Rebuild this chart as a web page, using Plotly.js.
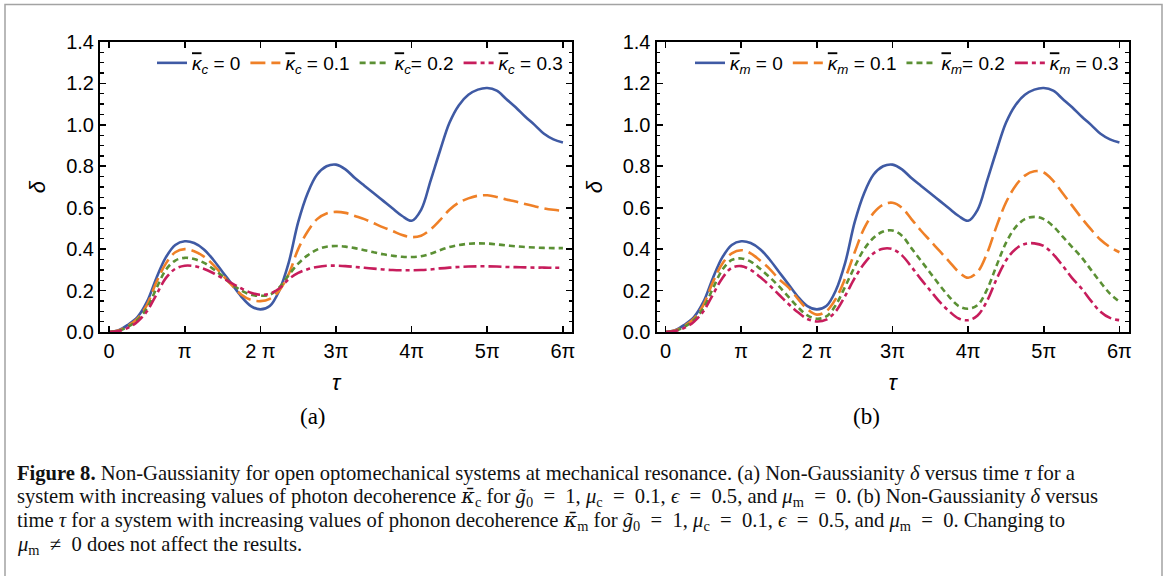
<!DOCTYPE html>
<html>
<head>
<meta charset="utf-8">
<script src="https://cdn.plot.ly/plotly-3.0.1.min.js"></script>
<style>
  html, body { margin: 0; padding: 0; background: #ffffff; }
  #chart { width: 1165px; height: 576px; }
</style>
</head>
<body>
<div id="chart"></div>
<script>
// ---------------- data ----------------
// time tau, in units of pi
const tauOverPi = [0, 0.125, 0.25, 0.375, 0.5, 0.625, 0.75, 0.875,
  1, 1.125, 1.25, 1.375, 1.5, 1.625, 1.75, 1.875,
  2, 2.125, 2.25, 2.375, 2.5, 2.625, 2.75, 2.875,
  3, 3.125, 3.25, 3.375, 3.5, 3.625, 3.75, 3.875,
  4, 4.125, 4.25, 4.375, 4.5, 4.625, 4.75, 4.875,
  5, 5.125, 5.25, 5.375, 5.5, 5.625, 5.75, 5.875, 6];

// closed system (kappa = 0), same curve in both panels
const deltaKappa0 = [0, 0.008, 0.035, 0.072, 0.145, 0.26, 0.36, 0.42,
  0.438, 0.43, 0.40, 0.35, 0.29, 0.23, 0.17, 0.125,
  0.109, 0.125, 0.20, 0.335, 0.53, 0.67, 0.76, 0.80,
  0.808, 0.785, 0.743, 0.706, 0.67, 0.633, 0.596, 0.56,
  0.537, 0.59, 0.73, 0.875, 1.01, 1.095, 1.145, 1.17,
  1.178, 1.165, 1.125, 1.085, 1.04, 1.0, 0.957, 0.93, 0.915];

// panel (a): photon decoherence kappa_c
const deltaKc01 = [0, 0.007, 0.03, 0.065, 0.13, 0.24, 0.33, 0.385,
  0.40, 0.39, 0.365, 0.325, 0.275, 0.225, 0.18, 0.155,
  0.149, 0.16, 0.20, 0.28, 0.40, 0.485, 0.545, 0.572,
  0.58, 0.575, 0.56, 0.545, 0.525, 0.505, 0.487, 0.468,
  0.458, 0.465, 0.495, 0.54, 0.59, 0.625, 0.645, 0.658,
  0.66, 0.652, 0.64, 0.63, 0.618, 0.607, 0.597, 0.59, 0.585];
const deltaKc02 = [0, 0.006, 0.025, 0.058, 0.115, 0.21, 0.30, 0.345,
  0.358, 0.352, 0.335, 0.305, 0.27, 0.23, 0.20, 0.18,
  0.175, 0.18, 0.215, 0.275, 0.33, 0.37, 0.398, 0.412,
  0.415, 0.412, 0.405, 0.395, 0.385, 0.375, 0.368, 0.363,
  0.362, 0.366, 0.378, 0.395, 0.41, 0.42, 0.426, 0.428,
  0.427, 0.423, 0.418, 0.414, 0.41, 0.408, 0.406, 0.405, 0.405];
const deltaKc03 = [0, 0.005, 0.02, 0.05, 0.10, 0.18, 0.26, 0.305,
  0.32, 0.318, 0.305, 0.285, 0.26, 0.235, 0.21, 0.19,
  0.18, 0.185, 0.21, 0.255, 0.285, 0.303, 0.314, 0.32,
  0.32, 0.318, 0.314, 0.31, 0.306, 0.302, 0.299, 0.298,
  0.298, 0.299, 0.302, 0.307, 0.311, 0.314, 0.316, 0.317,
  0.317, 0.316, 0.314, 0.313, 0.312, 0.311, 0.311, 0.31, 0.31];

// panel (b): phonon decoherence kappa_m
const deltaKm01 = [0, 0.007, 0.03, 0.065, 0.13, 0.24, 0.33, 0.38,
  0.395, 0.38, 0.345, 0.305, 0.255, 0.215, 0.16, 0.11,
  0.084, 0.10, 0.16, 0.26, 0.385, 0.50, 0.575, 0.615,
  0.624, 0.60, 0.545, 0.49, 0.44, 0.39, 0.34, 0.29,
  0.262, 0.29, 0.38, 0.51, 0.625, 0.705, 0.755, 0.776,
  0.77, 0.73, 0.67, 0.61, 0.55, 0.495, 0.445, 0.41, 0.385];
const deltaKm02 = [0, 0.006, 0.025, 0.058, 0.115, 0.21, 0.30, 0.348,
  0.355, 0.34, 0.305, 0.265, 0.22, 0.17, 0.12, 0.08,
  0.064, 0.075, 0.13, 0.22, 0.315, 0.40, 0.455, 0.485,
  0.49, 0.465, 0.405, 0.345, 0.285, 0.225, 0.17, 0.125,
  0.112, 0.13, 0.205, 0.32, 0.43, 0.505, 0.545, 0.556,
  0.545, 0.51, 0.46, 0.41, 0.36, 0.30, 0.24, 0.185, 0.146];
const deltaKm03 = [0, 0.005, 0.02, 0.05, 0.10, 0.18, 0.26, 0.31,
  0.318, 0.30, 0.265, 0.225, 0.18, 0.135, 0.095, 0.063,
  0.051, 0.06, 0.10, 0.175, 0.26, 0.33, 0.38, 0.402,
  0.40, 0.37, 0.315, 0.255, 0.20, 0.145, 0.10, 0.065,
  0.057, 0.08, 0.15, 0.255, 0.345, 0.40, 0.425, 0.428,
  0.415, 0.375, 0.32, 0.26, 0.21, 0.15, 0.098, 0.068, 0.057];

const xTickVals = [0, 1, 2, 3, 4, 5, 6];
const xTickText = ['0', 'π', '2 π', '3π', '4π', '5π', '6π'];
const KB = '<span style="text-decoration:overline"><i>κ</i></span>';
const legendA = [KB + '<sub><i>c</i></sub> = 0', KB + '<sub><i>c</i></sub> = 0.1',
                 KB + '<sub><i>c</i></sub>= 0.2', KB + '<sub><i>c</i></sub> = 0.3'];
const legendB = [KB + '<sub><i>m</i></sub> = 0', KB + '<sub><i>m</i></sub> = 0.1',
                 KB + '<sub><i>m</i></sub>= 0.2', KB + '<sub><i>m</i></sub> = 0.3'];
const EQ = '\u2002=\u2002';
const KC = '<span style="font-family:\'DejaVu Serif\'"><i>κ\u0304</i></span>';
const captionLines = [
  '<b>Figure 8.</b> Non-Gaussianity for open optomechanical systems at mechanical resonance. (a) Non-Gaussianity <i>δ</i> versus time <i>τ</i> for a',
  'system with increasing values of photon decoherence ' + KC + '<sub>c</sub> for <i>g\u0303</i><sub>0</sub>' + EQ + '1, <i>μ</i><sub>c</sub>' + EQ + '0.1, <i>ϵ</i>' + EQ + '0.5, and <i>μ</i><sub>m</sub>' + EQ + '0. (b) Non-Gaussianity <i>δ</i> versus',
  'time <i>τ</i> for a system with increasing values of phonon decoherence ' + KC + '<sub>m</sub> for <i>g\u0303</i><sub>0</sub>' + EQ + '1, <i>μ</i><sub>c</sub>' + EQ + '0.1, <i>ϵ</i>' + EQ + '0.5, and <i>μ</i><sub>m</sub>' + EQ + '0. Changing to',
  '<i>μ</i><sub>m</sub>\u2002≠\u20020 does not affect the results.'
];

// ---------------- styles ----------------
const colors = ['#3f5aa4', '#ef8027', '#5b9034', '#c71d5c'];
const dashes = ['solid', '15px,6px', '6px,4px', '13px,4px,4px,4px'];
const W = 1165, H = 576;
const px = v => v / W;
const py = v => (H - v) / H;

const seriesA = [deltaKappa0, deltaKc01, deltaKc02, deltaKc03];
const seriesB = [deltaKappa0, deltaKm01, deltaKm02, deltaKm03];

const traces = [];
seriesA.forEach((s, i) => traces.push({
  x: tauOverPi, y: s, type: 'scatter', mode: 'lines', name: legendA[i],
  line: {color: colors[i], width: 2.6, dash: dashes[i], shape: 'spline', smoothing: 1},
  xaxis: 'x', yaxis: 'y', legend: 'legend', hoverinfo: 'skip'
}));
seriesB.forEach((s, i) => traces.push({
  x: tauOverPi, y: s, type: 'scatter', mode: 'lines', name: legendB[i],
  line: {color: colors[i], width: 2.6, dash: dashes[i], shape: 'spline', smoothing: 1},
  xaxis: 'x2', yaxis: 'y2', legend: 'legend2', hoverinfo: 'skip'
}));

const tickFont = {family: 'Liberation Sans, Arial, sans-serif', size: 20, color: '#000'};
function xAxis(domain, anchor) {
  return {
    domain: domain, anchor: anchor, range: [-0.12, 6.12],
    tickvals: xTickVals, ticktext: xTickText,
    ticks: 'inside', ticklen: 6, tickwidth: 1.6, tickcolor: '#000',
    showline: true, linewidth: 2, linecolor: '#000', mirror: 'ticks',
    showgrid: false, zeroline: false, tickfont: tickFont,
    title: {text: '<i>τ</i>', font: {family: 'Liberation Sans, Arial, sans-serif', size: 22, color: '#000'}, standoff: 14}
  };
}
function yAxis(anchor) {
  return {
    domain: [py(332), py(42)], anchor: anchor, range: [0, 1.4],
    dtick: 0.2, tick0: 0, tickformat: '.1f',
    ticks: 'inside', ticklen: 6, tickwidth: 1.6, tickcolor: '#000',
    minor: {dtick: 0.05, ticks: 'inside', ticklen: 3.5, tickwidth: 1.3, tickcolor: '#000'},
    showline: true, linewidth: 2, linecolor: '#000', mirror: 'ticks',
    showgrid: false, zeroline: false, tickfont: tickFont,
    title: {text: '<i>δ</i>', font: {family: 'Liberation Sans, Arial, sans-serif', size: 22, color: '#000'}, standoff: 14}
  };
}
const legendFont = {family: 'Liberation Sans, Arial, sans-serif', size: 19, color: '#000'};
function legendBox(xpx) {
  return {
    orientation: 'h', x: px(xpx), y: py(63), xanchor: 'left', yanchor: 'middle',
    bgcolor: 'rgba(0,0,0,0)', borderwidth: 0, font: legendFont,
    itemclick: false, itemdoubleclick: false
  };
}

const annotations = [
  {text: '(a)', x: px(313), y: py(417), xref: 'paper', yref: 'paper', xanchor: 'center', yanchor: 'middle', showarrow: false,
   font: {family: 'Liberation Serif, Times New Roman, serif', size: 23, color: '#000'}},
  {text: '(b)', x: px(866), y: py(417), xref: 'paper', yref: 'paper', xanchor: 'center', yanchor: 'middle', showarrow: false,
   font: {family: 'Liberation Serif, Times New Roman, serif', size: 23, color: '#000'}}
];
const captionY = [473, 497, 521, 545];
captionLines.forEach((t, i) => annotations.push({
  text: t, x: px(15), y: py(captionY[i]), xref: 'paper', yref: 'paper',
  xanchor: 'left', yanchor: 'middle', align: 'left', showarrow: false,
  font: {family: 'Liberation Serif, Times New Roman, serif', size: 20.6, color: '#111'}
}));

const layout = {
  width: W, height: H,
  margin: {l: 0, r: 0, t: 0, b: 0},
  paper_bgcolor: '#fff', plot_bgcolor: '#fff',
  showlegend: true,
  xaxis: xAxis([px(100), px(572)], 'y'),
  yaxis: yAxis('x'),
  xaxis2: xAxis([px(656.5), px(1128.5)], 'y2'),
  yaxis2: yAxis('x2'),
  legend: legendBox(152),
  legend2: legendBox(690),
  annotations: annotations,
  shapes: [{
    type: 'path', xref: 'paper', yref: 'paper',
    path: 'M ' + px(5) + ' ' + (-0.02) + ' L ' + px(5) + ' ' + py(4.5) + ' L ' + px(1162) + ' ' + py(4.5) + ' L ' + px(1162) + ' ' + (-0.02),
    line: {color: '#a3a3a3', width: 1.5}
  }]
};

Plotly.newPlot('chart', traces, layout, {staticPlot: true, displayModeBar: false});
</script>
</body>
</html>
